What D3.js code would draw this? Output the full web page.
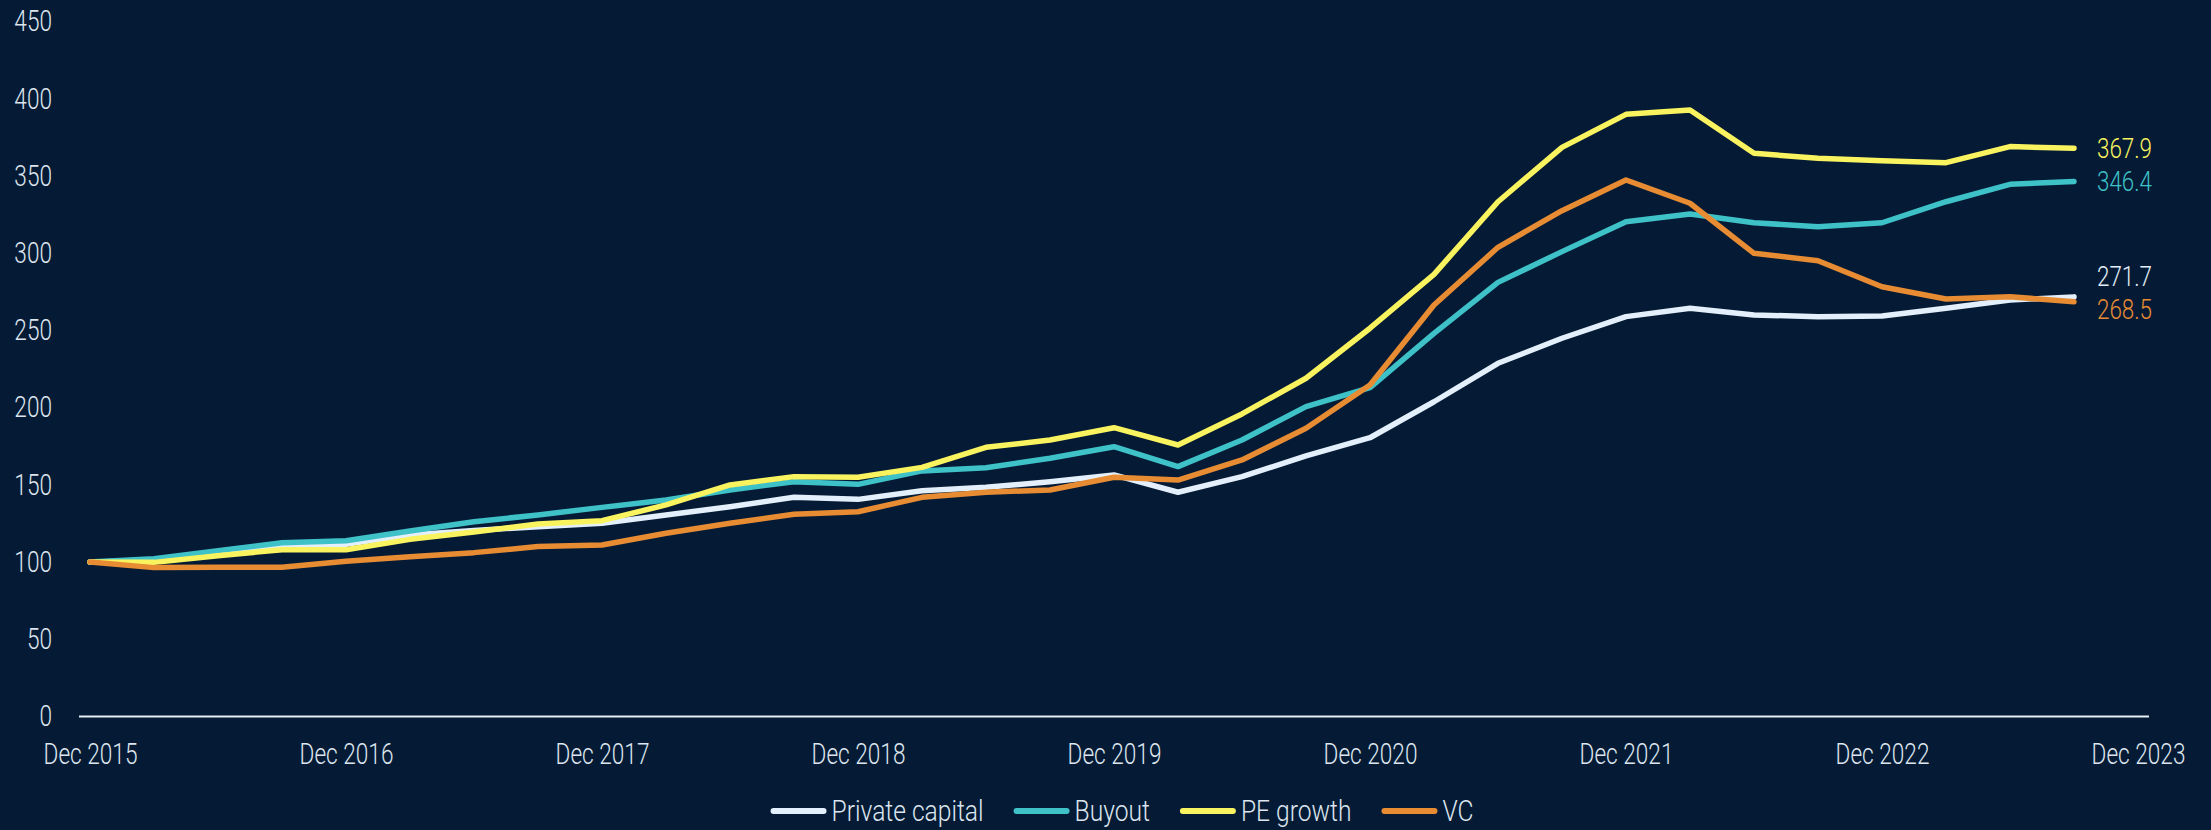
<!DOCTYPE html>
<html>
<head>
<meta charset="utf-8">
<script src="https://cdn.jsdelivr.net/npm/d3@7"></script>
<style>
  html, body { margin: 0; padding: 0; background: #051b35; }
  svg { display: block; }
  text { font-family: Roboto, "Open Sans", sans-serif; font-weight: 300; }
</style>
</head>
<body>
<svg id="chart" width="2211" height="830"></svg>
<script>
// ---------- DATA ----------
const quarters = [
  "Dec 2015","Mar 2016","Jun 2016","Sep 2016","Dec 2016","Mar 2017","Jun 2017","Sep 2017",
  "Dec 2017","Mar 2018","Jun 2018","Sep 2018","Dec 2018","Mar 2019","Jun 2019","Sep 2019",
  "Dec 2019","Mar 2020","Jun 2020","Sep 2020","Dec 2020","Mar 2021","Jun 2021","Sep 2021",
  "Dec 2021","Mar 2022","Jun 2022","Sep 2022","Dec 2022","Mar 2023","Jun 2023","Sep 2023",
  "Dec 2023"
];
const tickLabels = ["Dec 2015","Dec 2016","Dec 2017","Dec 2018","Dec 2019","Dec 2020","Dec 2021","Dec 2022","Dec 2023"];
const yTicks = [0, 50, 100, 150, 200, 250, 300, 350, 400, 450];

const seriesNames = ["Private capital", "Buyout", "PE growth", "VC"];
const privateCapital = [100, 100.8, 105.7, 110.6, 111.5, 117.5, 120.5, 122.9, 125.1, 130.5, 135.8, 141.9, 140.6, 146.2, 148.4, 152,
  156.4, 145.2, 155.3, 168.7, 180.5, 203.8, 228.7, 244.9, 258.9, 264.3, 260, 258.9, 259.3, 264.3, 269.7, 271.7];
const buyout = [100, 102.2, 107.4, 112.5, 113.8, 120.1, 126.1, 130.5, 135.4, 140.2, 146.7, 152, 150.3, 159, 161.1, 167.2,
  174.7, 161.8, 179, 200.6, 212.9, 248.1, 281.1, 301, 320.4, 325.4, 319.7, 317.1, 319.7, 333.3, 344.6, 346.4];
const peGrowth = [100, 99.8, 104.1, 108, 108, 114.7, 119.5, 124.6, 126.8, 137, 149.9, 155.3, 154.9, 161.3, 174.3, 179,
  187, 175.8, 195.9, 219, 251.4, 286.3, 333.3, 368.5, 389.9, 392.7, 364.7, 361.4, 359.9, 358.6, 369, 367.9];
const vc = [100, 96.4, 96.6, 96.6, 100.5, 103.5, 106.1, 110, 111, 118.6, 125.1, 130.9, 132.6, 141.9, 145.2, 146.7,
  154.9, 153.1, 166.1, 186.6, 214.6, 266.4, 303.8, 327.5, 347.4, 332.3, 299.9, 295.1, 278.3, 270.3, 271.8, 268.5];
const seriesColors = ["#e3effa", "#3fc1c8", "#f9f35f", "#e88c34"];

// ---------- SETUP ----------
const W = 2211, H = 830;
const SX = 0.78;          // horizontal condensing of text
const FS = 29;            // axis font size
const textColor = "#dde5ee";

const svg = d3.select("#chart");
svg.append("rect").attr("width", W).attr("height", H).attr("fill", "#051b35");

const x = d3.scalePoint().domain(quarters).range([90, 2138]);
const y = d3.scaleLinear().domain([0, 450]).range([716.5, 21.5]);

const series = seriesNames.map((name, i) => ({
  name,
  color: seriesColors[i],
  values: [privateCapital, buyout, peGrowth, vc][i]
}));

// ---------- AXES ----------
const yAxis = d3.axisLeft(y).tickValues(yTicks).tickSize(0).tickPadding(0).tickFormat(d3.format("d"));
const gy = svg.append("g").attr("transform", "translate(52,0)").call(yAxis);
gy.select(".domain").remove();
gy.selectAll("text")
  .attr("x", 0)
  .attr("transform", `scale(${SX},1)`)
  .attr("fill", textColor)
  .style("font-size", FS + "px")
  .style("font-family", "Roboto, 'Open Sans', sans-serif")
  .style("font-weight", 300);

const xAxis = d3.axisBottom(x).tickValues(tickLabels).tickSize(0).tickPadding(26.5);
const gx = svg.append("g").attr("transform", `translate(0,${y(0)})`).call(xAxis);
gx.select(".domain").remove();
gx.selectAll("text")
  .attr("transform", `scale(${SX},1)`)
  .attr("fill", textColor)
  .style("font-size", FS + "px")
  .style("font-family", "Roboto, 'Open Sans', sans-serif")
  .style("font-weight", 300);

svg.append("line")
  .attr("x1", x.range()[0] - 11).attr("x2", x.range()[1] + 11)
  .attr("y1", y(0)).attr("y2", y(0))
  .attr("stroke", "#e6eef6").attr("stroke-width", 2);

// ---------- LINES ----------
const line = d3.line()
  .x((d, i) => x(quarters[i]))
  .y(d => y(d));

svg.append("g").selectAll("path")
  .data(series)
  .join("path")
  .attr("d", d => line(d.values))
  .attr("fill", "none")
  .attr("stroke", d => d.color)
  .attr("stroke-width", 5.5)
  .attr("stroke-linejoin", "round")
  .attr("stroke-linecap", "round");

// ---------- END LABELS ----------
const LFS = 28, LSX = 0.8;
const labels = series.map(s => {
  const v = s.values[s.values.length - 1];
  return { s, v, x: x(quarters[s.values.length - 1]) + 23, y: y(v) };
}).sort((a, b) => a.y - b.y);
const minGap = 33;
for (let k = 1; k < labels.length; k++) {
  const gap = labels[k].y - labels[k - 1].y;
  if (gap < minGap) {
    const ov = minGap - gap;
    labels[k - 1].y -= ov * 0.75;
    labels[k].y += ov * 0.25;
  }
}
const lg = svg.append("g");
labels.forEach(l => {
  lg.append("g").attr("transform", `translate(${l.x},${l.y})`)
    .append("text")
    .attr("transform", `scale(${LSX},1)`)
    .attr("dy", "0.35em")
    .attr("fill", l.s.color)
    .style("font-size", LFS + "px")
    .text(d3.format(".1f")(l.v));
});

// ---------- LEGEND ----------
const GFS = 30, GSX = 0.82;
const legend = svg.append("g");
const swW = 56, swGap = 5, itemGap = 30;
const items = series.map(s => {
  const g = legend.append("g");
  g.append("line").attr("x1", 3).attr("x2", swW - 3).attr("y1", 0).attr("y2", 0)
    .attr("stroke", s.color).attr("stroke-width", 6).attr("stroke-linecap", "round");
  const tg = g.append("g").attr("transform", `translate(${swW + swGap},0)`);
  const t = tg.append("text").attr("transform", `scale(${GSX},1)`).attr("y", 10)
    .attr("fill", textColor).style("font-size", GFS + "px").text(s.name);
  const w = t.node().getComputedTextLength() * GSX;
  return { g, w: swW + swGap + w };
});
const total = d3.sum(items, d => d.w) + itemGap * (items.length - 1);
let cx = 1122 - total / 2;
items.forEach(it => {
  it.g.attr("transform", `translate(${cx},811)`);
  cx += it.w + itemGap;
});
</script>
</body>
</html>
